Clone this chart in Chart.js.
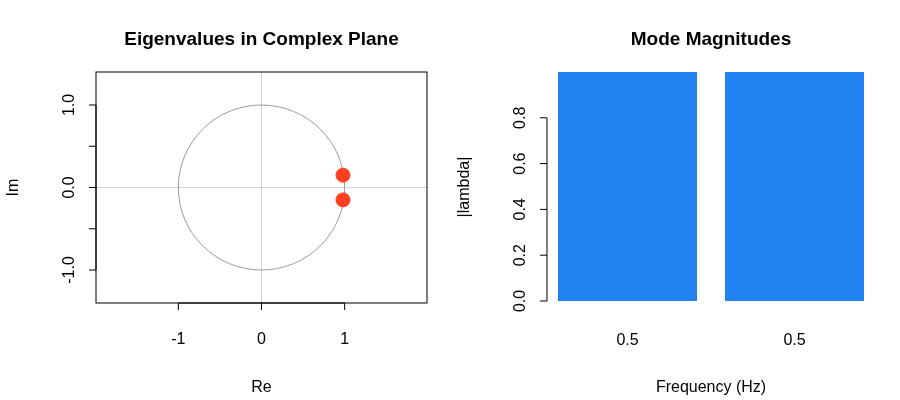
<!DOCTYPE html>
<html><head><meta charset="utf-8">
<script src="https://cdn.jsdelivr.net/npm/chart.js@4"></script>
<style>body{margin:0;background:#fff}.w{position:absolute;top:0;width:450px;height:400px}</style>
</head><body>
<div class="w" style="left:0"><canvas id="c1" width="450" height="400"></canvas></div>
<div class="w" style="left:450px"><canvas id="c2" width="450" height="400"></canvas></div>
<script>
const eigRe = [0.98, 0.98];
const eigIm = [0.15, -0.15];
const freqLabels = ['0.5', '0.5'];
const magnitudes = [1.0, 1.0];
const xTicks1 = [-1, 0, 1];
const yTicks1 = [-1, -0.5, 0, 0.5, 1];
const yLabels1 = ['-1.0', '', '0.0', '', '1.0'];
const yTicks2 = [0, 0.2, 0.4, 0.6, 0.8];
const yLabels2 = ['0.0', '0.2', '0.4', '0.6', '0.8'];

const FONT = '"Liberation Sans", Arial, sans-serif';
Chart.defaults.animation = false;
Chart.defaults.responsive = false;

function txt(ctx, s, x, y, opt = {}) {
  ctx.save();
  ctx.font = (opt.bold ? 'bold ' : '') + (opt.size || 16) + 'px ' + FONT;
  ctx.fillStyle = '#000'; ctx.textAlign = 'center'; ctx.textBaseline = 'middle';
  ctx.translate(x, y); if (opt.rot) ctx.rotate(-Math.PI / 2);
  ctx.fillText(s, 0, 0); ctx.restore();
}
function line(ctx, x1, y1, x2, y2, col, w) {
  ctx.save(); ctx.strokeStyle = col || '#000'; ctx.lineWidth = w || 1;
  ctx.beginPath(); ctx.moveTo(x1, y1); ctx.lineTo(x2, y2); ctx.stroke(); ctx.restore();
}

const plot1 = {
  id: 'p1',
  beforeDatasetsDraw(chart) {
    const { ctx, scales: { x, y }, chartArea: a } = chart;
    line(ctx, a.left, y.getPixelForValue(0), a.right, y.getPixelForValue(0), '#d3d3d3');
    line(ctx, x.getPixelForValue(0), a.top, x.getPixelForValue(0), a.bottom, '#d3d3d3');
    const cx = x.getPixelForValue(0), cy = y.getPixelForValue(0);
    const rx = x.getPixelForValue(1) - cx, ry = cy - y.getPixelForValue(1);
    ctx.save(); ctx.strokeStyle = '#999'; ctx.lineWidth = 1;
    ctx.beginPath(); ctx.ellipse(cx, cy, rx, ry, 0, 0, Math.PI * 2); ctx.stroke(); ctx.restore();
  },
  afterDraw(chart) {
    const { ctx, scales: { x, y }, chartArea: a } = chart;
    ctx.save(); ctx.strokeStyle = '#000'; ctx.lineWidth = 1;
    ctx.strokeRect(a.left, a.top, a.right - a.left, a.bottom - a.top); ctx.restore();
    line(ctx, x.getPixelForValue(xTicks1[0]), a.bottom, x.getPixelForValue(xTicks1[xTicks1.length - 1]), a.bottom);
    xTicks1.forEach(v => { const p = x.getPixelForValue(v); line(ctx, p, a.bottom, p, a.bottom + 7); txt(ctx, String(v), p, a.bottom + 37); });
    line(ctx, a.left, y.getPixelForValue(yTicks1[0]), a.left, y.getPixelForValue(yTicks1[yTicks1.length - 1]));
    yTicks1.forEach((v, i) => { const p = y.getPixelForValue(v); line(ctx, a.left - 7, p, a.left, p); if (yLabels1[i]) txt(ctx, yLabels1[i], a.left - 26, p, { rot: true }); });
    txt(ctx, 'Re', (a.left + a.right) / 2, 388);
    txt(ctx, 'Im', 14, (a.top + a.bottom) / 2, { rot: true });
    txt(ctx, 'Eigenvalues in Complex Plane', (a.left + a.right) / 2, 40, { bold: true, size: 19 });
  }
};

new Chart(document.getElementById('c1'), {
  type: 'scatter',
  data: { datasets: [{ data: eigRe.map((v, i) => ({ x: v, y: eigIm[i] })), backgroundColor: '#ff4020', borderColor: '#ff4020', pointRadius: 7 }] },
  options: {
    layout: { padding: { top: 72, right: 23, left: 0, bottom: 0 } },
    plugins: { legend: { display: false }, tooltip: { enabled: false } },
    scales: {
      x: { min: -1.99, max: 1.99, grid: { display: false }, border: { display: false }, ticks: { display: false }, afterFit: s => { s.height = 97; } },
      y: { min: -1.4, max: 1.4, grid: { display: false }, border: { display: false }, ticks: { display: false }, afterFit: s => { s.width = 96; } }
    }
  },
  plugins: [plot1]
});

const plot2 = {
  id: 'p2',
  afterDraw(chart) {
    const { ctx, scales: { x, y }, chartArea: a } = chart;
    const ax = 97;
    line(ctx, ax, y.getPixelForValue(yTicks2[0]), ax, y.getPixelForValue(yTicks2[yTicks2.length - 1]));
    yTicks2.forEach((v, i) => { const p = y.getPixelForValue(v); line(ctx, ax - 7, p, ax, p); txt(ctx, yLabels2[i], ax - 26, p, { rot: true }); });
    freqLabels.forEach((l, i) => txt(ctx, l, x.getPixelForValue(i), 341));
    txt(ctx, 'Frequency (Hz)', (a.left + a.right) / 2, 388);
    txt(ctx, '|lambda|', 15, 187, { rot: true });
    txt(ctx, 'Mode Magnitudes', (a.left + a.right) / 2, 40, { bold: true, size: 19 });
  }
};

new Chart(document.getElementById('c2'), {
  type: 'bar',
  data: { labels: freqLabels, datasets: [{ data: magnitudes, backgroundColor: '#1f82f0', barPercentage: 139 / 167, categoryPercentage: 1 }] },
  options: {
    layout: { padding: { top: 72, right: 22, left: 0, bottom: 0 } },
    plugins: { legend: { display: false }, tooltip: { enabled: false } },
    scales: {
      x: { grid: { display: false }, border: { display: false }, ticks: { display: false }, afterFit: s => { s.height = 99; } },
      y: { min: 0, max: 1, grid: { display: false }, border: { display: false }, ticks: { display: false }, afterFit: s => { s.width = 94; } }
    }
  },
  plugins: [plot2]
});
</script>
</body></html>
